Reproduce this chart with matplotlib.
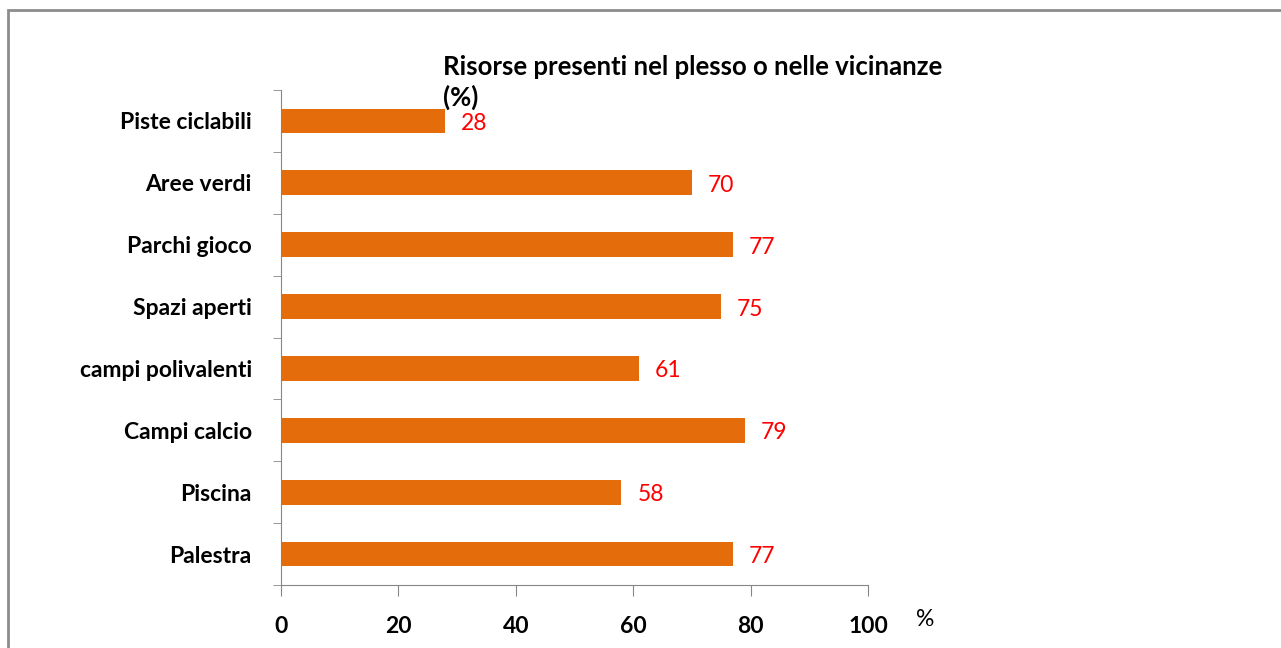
import matplotlib.pyplot as plt
from matplotlib.patches import Rectangle

CATEGORIES = [
    "Palestra",
    "Piscina",
    "Campi calcio",
    "campi polivalenti",
    "Spazi aperti",
    "Parchi gioco",
    "Aree verdi",
    "Piste ciclabili",
]
VALUES = [77, 58, 79, 61, 75, 77, 70, 28]
X_TICKS = [0, 20, 40, 60, 80, 100]

BAR_COLOR = "#E46C0A"
AXIS_COLOR = "#868686"
FONT = ["Lato", "DejaVu Sans"]

plt.rcParams["font.family"] = FONT

fig = plt.figure(figsize=(12.81, 6.48), dpi=100)
fig.patches.append(
    Rectangle((8 / 1281, -0.1), 1.2, 1 - 10 / 648 + 0.1, transform=fig.transFigure,
              fill=False, edgecolor="#8c8c8c", linewidth=2)
)

ax = fig.add_axes([281 / 1281, 1 - 585 / 648, 587 / 1281, 495 / 648])

y = list(range(len(CATEGORIES)))
ax.barh(y, VALUES, height=0.4, color=BAR_COLOR)

for yi, v in zip(y, VALUES):
    ax.text(v + 2.7, yi - 0.04, str(v), color="#FF0000", fontsize=16.5, va="center", ha="left")

ax.set_xlim(0, 100)
ax.set_ylim(-0.5, len(CATEGORIES) - 0.5)
ax.set_xticks(X_TICKS)
ax.set_xticklabels([str(t) for t in X_TICKS], fontsize=16.5, fontweight="bold")
ax.set_yticks(y)
ax.set_yticklabels(CATEGORIES, fontsize=16.5, fontweight="bold")
ax.tick_params(axis="y", length=0, pad=21)
ax.set_yticks([i - 0.5 for i in range(len(CATEGORIES) + 1)], minor=True)
ax.tick_params(axis="y", which="minor", length=6, color=AXIS_COLOR, direction="out")
ax.tick_params(axis="x", length=8, color=AXIS_COLOR, pad=14)

for side in ["top", "right"]:
    ax.spines[side].set_visible(False)
for side in ["left", "bottom"]:
    ax.spines[side].set_color(AXIS_COLOR)

ax.text(1.0975, -0.07, "%", transform=ax.transAxes, fontsize=16.5, ha="center", va="center")

fig.text(443 / 1281, 1 - 55 / 648, "Risorse presenti nel plesso o nelle vicinanze\n(%)",
         fontsize=18.5, fontweight="bold", ha="left", va="top", linespacing=1.25)

fig.savefig("out.png", dpi=100)
